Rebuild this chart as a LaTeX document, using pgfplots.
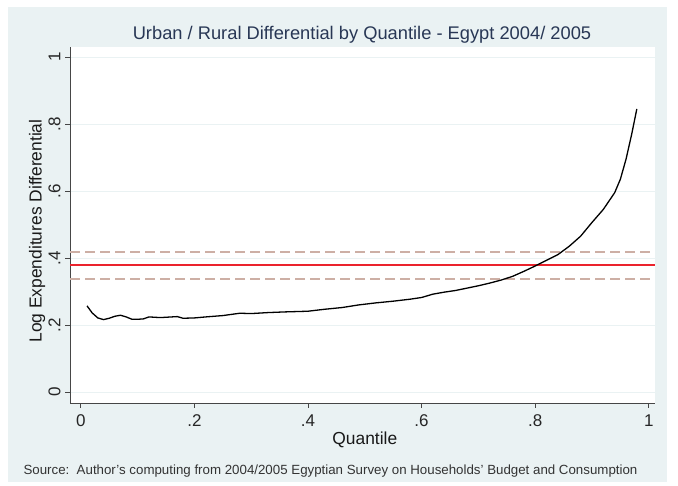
\documentclass[border=0pt]{standalone}
\usepackage{pgfplots}
\pgfplotsset{compat=1.18}
\usepackage{fontspec}
\setmainfont{Liberation Sans}
\definecolor{bgcol}{RGB}{234,242,243}
\definecolor{titlecol}{RGB}{40,55,85}
\definecolor{dashcol}{RGB}{205,175,165}
\definecolor{refred}{RGB}{235,35,45}
\definecolor{axcol}{RGB}{70,70,70}
\definecolor{gridcol}{RGB}{234,242,243}
\pgfplotstableread{
q d
0.011 0.257
0.02 0.236
0.03 0.221
0.04 0.216
0.05 0.220
0.06 0.226
0.07 0.229
0.08 0.224
0.09 0.217
0.10 0.217
0.11 0.218
0.12 0.224
0.14 0.222
0.16 0.224
0.17 0.225
0.18 0.220
0.20 0.221
0.22 0.224
0.25 0.228
0.28 0.235
0.30 0.234
0.33 0.237
0.36 0.239
0.40 0.241
0.43 0.247
0.46 0.252
0.49 0.260
0.52 0.266
0.55 0.271
0.58 0.277
0.60 0.282
0.62 0.292
0.64 0.298
0.66 0.303
0.68 0.310
0.70 0.317
0.72 0.325
0.74 0.334
0.76 0.345
0.78 0.360
0.80 0.376
0.82 0.393
0.84 0.410
0.86 0.435
0.88 0.465
0.90 0.506
0.92 0.545
0.94 0.595
0.95 0.635
0.96 0.695
0.97 0.770
0.979 0.845
}\curve
\pgfplotstableread{
x r lo hi
-0.019 0.378 0.338 0.419
1.011 0.378 0.338 0.419
}\hlines
\begin{document}
\begin{tikzpicture}
\useasboundingbox (0pt,0pt) rectangle (678pt,486pt);
\fill[white] (0pt,0pt) rectangle (678pt,486pt);
\fill[bgcol] (8pt,4pt) rectangle (667pt,479pt);
\node[titlecol, font=\fontsize{18.3}{22}\selectfont] at (362pt,451pt) {Urban / Rural Differential by Quantile - Egypt 2004/ 2005};
\node[black!80, font=\fontsize{13.3}{16}\selectfont, anchor=west] at (20pt,15pt) {Source:\ \ Author’s computing from 2004/2005 Egyptian Survey on Households’ Budget and Consumption};
\begin{axis}[
  at={(70pt,83pt)}, anchor=south west,
  scale only axis, width=585pt, height=356pt,
  xmin=-0.019, xmax=1.011, ymin=-0.033, ymax=1.03,
  axis background/.style={fill=white},
  axis x line*=bottom, axis y line*=left,
  axis line style={axcol, -, line width=0.8pt},
  tick style={axcol, line width=0.8pt},
  tick align=outside, major tick length=5pt,
  xtick={0,0.2,0.4,0.6,0.8,1}, xticklabels={0,.2,.4,.6,.8,1},
  ytick={0,0.2,0.4,0.6,0.8,1}, yticklabels={0,.2,.4,.6,.8,1},
  ticklabel style={font=\fontsize{17}{20}\selectfont, black!85},
  yticklabel style={rotate=90, anchor=south},
  xticklabel shift=3pt, yticklabel shift=1pt,
  /pgf/number format/assume math mode=true,
  ymajorgrids, grid style={gridcol, line width=0.8pt},
  xlabel={Quantile}, ylabel={Log Expenditures Differential},
  label style={font=\fontsize{17.4}{20}\selectfont, black!90},
  xlabel style={at={(axis description cs:0.504,-0.103)}, anchor=center},
  ylabel style={at={(axis description cs:-0.056,0.483)}, anchor=center, rotate=0},
  clip=false,
]
\addplot[draw=dashcol, line width=1.8pt, dash pattern=on 10pt off 5pt] table[x=x, y=hi] {\hlines};
\addplot[draw=dashcol, line width=1.8pt, dash pattern=on 10pt off 5pt] table[x=x, y=lo] {\hlines};
\addplot[draw=refred, line width=1.8pt] table[x=x, y=r] {\hlines};
\addplot[draw=black, line width=1.3pt] table[x=q, y=d] {\curve};
\end{axis}
\end{tikzpicture}
\end{document}
